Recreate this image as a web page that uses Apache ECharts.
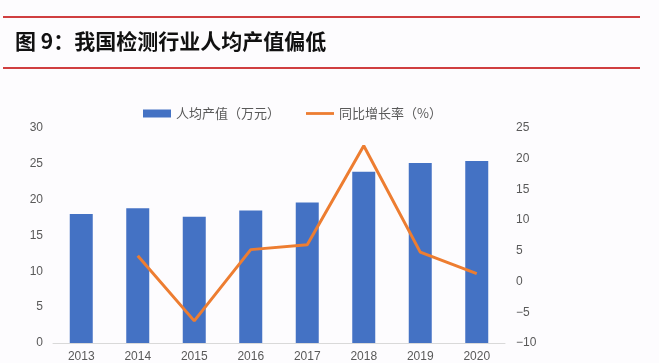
<!DOCTYPE html>
<html><head><meta charset="utf-8">
<script src="https://cdn.jsdelivr.net/npm/echarts@6/dist/echarts.min.js"></script>
<style>html,body{margin:0;padding:0;background:#fdfcfe;}#c{width:659px;height:363px;}</style>
</head><body><div id="c"></div>
<script>
var categories = ['2013','2014','2015','2016','2017','2018','2019','2020'];
var outputPerCapita = [18.0, 18.8, 17.6, 18.5, 19.6, 23.9, 25.1, 25.4];
var growthRate = [null, 4.2, -6.4, 5.2, 6.0, 22.1, 4.8, 1.3];
var leftTicks = [0, 30, 5];
var rightTicks = [-10, 25, 5];
var titleText = '图 9：我国检测行业人均产值偏低';
var seriesNames = ['人均产值（万元）', '同比增长率（%）'];

var chart = echarts.init(document.getElementById('c'));
var lbl = {color:'#595959', fontSize:12, fontFamily:'Liberation Sans, Arial, sans-serif'};
chart.setOption({
  backgroundColor:'#fdfcfe',
  graphic:[
    {type:'line', shape:{x1:3,y1:17,x2:640,y2:17}, style:{stroke:'#c00000', lineWidth:1.5}},
    {type:'line', shape:{x1:3,y1:68,x2:640,y2:68}, style:{stroke:'#c00000', lineWidth:1.5}},
    {type:'text', left:15, top:31, style:{text:titleText, fill:'#111', font:'bold 21px "Noto Sans CJK SC"'}}
  ],
  legend:{
    top:102, left:138, itemGap:26, itemWidth:28, itemHeight:8,
    textStyle:{color:'#595959', fontSize:13, fontFamily:'"Noto Sans CJK SC"'},
    data:[{name:seriesNames[0], icon:'rect'},
          {name:seriesNames[1], icon:'path://M0,0 L30,0 L30,3 L0,3 Z', itemStyle:{color:'#ed7d31'}}]
  },
  grid:{left:53, right:154, top:128, bottom:19},
  xAxis:{type:'category', data:categories,
    axisLine:{lineStyle:{color:'#d9d9d9'}}, axisTick:{show:false},
    axisLabel:Object.assign({margin:8}, lbl)},
  yAxis:[
    {type:'value', min:leftTicks[0], max:leftTicks[1], interval:leftTicks[2],
     splitLine:{show:false}, axisLine:{show:false}, axisTick:{show:false},
     axisLabel:Object.assign({margin:10}, lbl)},
    {type:'value', min:rightTicks[0], max:rightTicks[1], interval:rightTicks[2],
     splitLine:{show:false}, axisLine:{show:false}, axisTick:{show:false},
     axisLabel:Object.assign({margin:11, formatter:function(v){return String(v).replace('-', '\u2212');}}, lbl)}
  ],
  series:[
    {name:seriesNames[0], type:'bar', data:outputPerCapita, barWidth:23,
     itemStyle:{color:'#4472c4'}, yAxisIndex:0},
    {name:seriesNames[1], type:'line', data:growthRate, yAxisIndex:1,
     symbol:'none', lineStyle:{color:'#ed7d31', width:3}, itemStyle:{color:'#ed7d31'}}
  ]
});
</script></body></html>
